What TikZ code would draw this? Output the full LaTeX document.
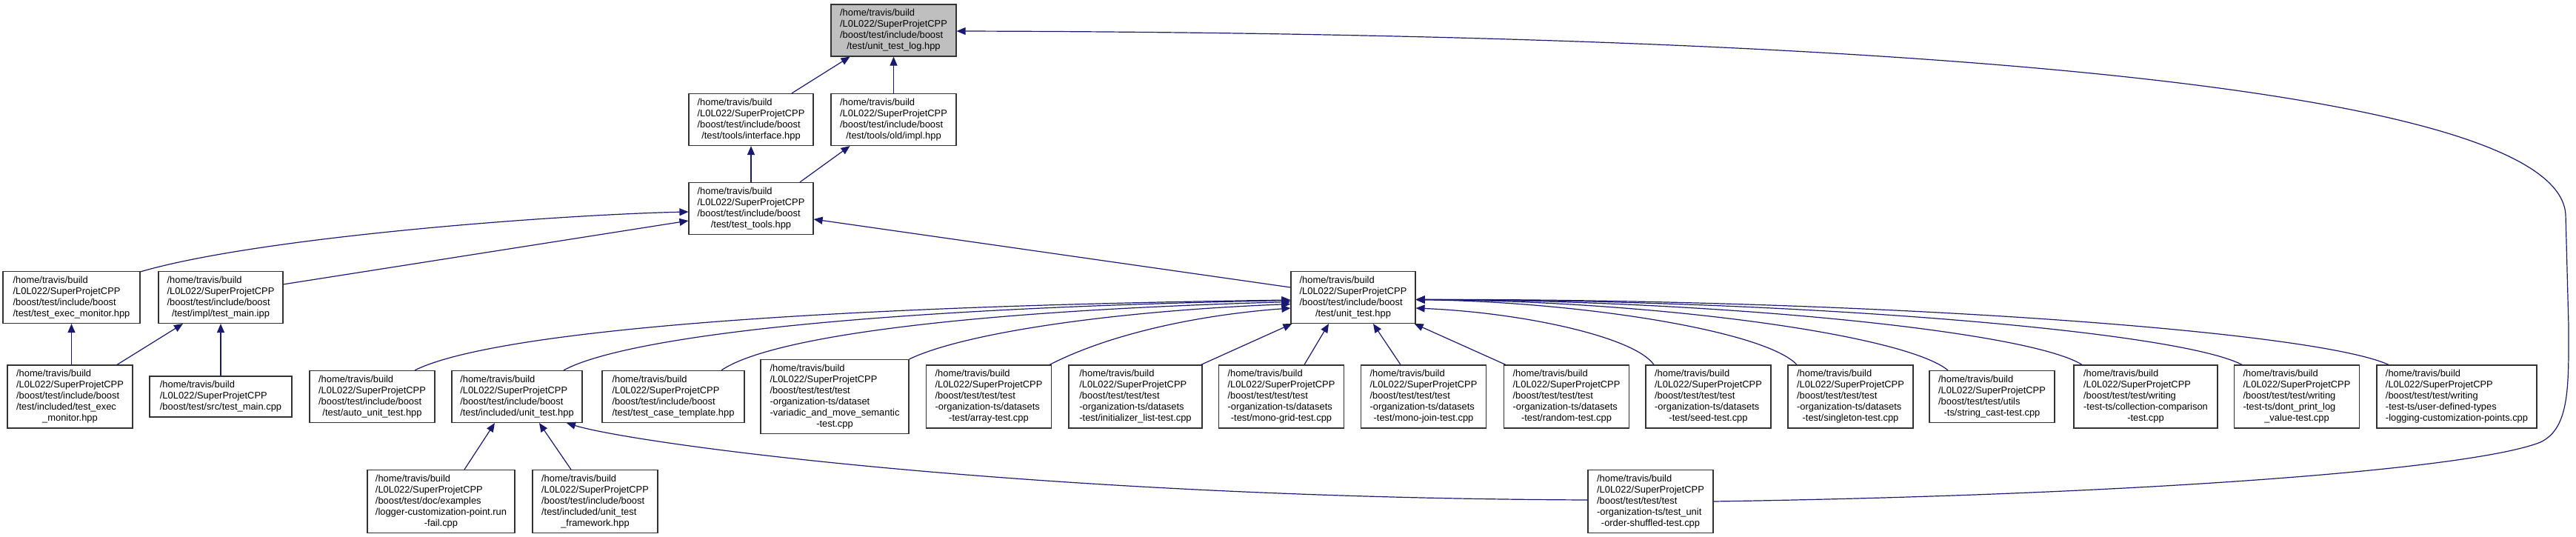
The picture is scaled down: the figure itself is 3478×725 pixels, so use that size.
\documentclass[tikz,border=0pt]{standalone}
\usepackage{fontspec}
\setmainfont{Liberation Sans}
\usepackage{xcolor}
\usepackage{tikz}
\usetikzlibrary{arrows.meta}
\definecolor{edgeblue}{RGB}{25,25,112}
\definecolor{rootgray}{RGB}{191,191,191}
\newcommand{\tvb}{/home/travis/build\\/L0L022/SuperProjetCPP}
\newcommand{\ftext}[2]{\begin{tabular}{@{}l@{}}#1\\\multicolumn{1}{@{}c@{}}{#2}\end{tabular}}

\begin{document}
\begin{tikzpicture}[x=1pt,y=-1pt,
	filebox/.style={draw=black!80, line width=1.2pt, fill=white, inner xsep=6pt, inner ysep=5pt, minimum width=169pt, font=\fontsize{12.9pt}{15pt}\selectfont},
	dep/.style={draw=edgeblue, line width=1.2pt, -{Triangle[length=12pt,width=10pt]}}]
			\fill[white] (0,0) rectangle (3478,725);
			\useasboundingbox (0,0) rectangle (3478,725);
			
			% top file
			\node[filebox, fill=rootgray] (log) at (1206.5,41) {\ftext{\tvb\\/boost/test/include/boost}{/test/unit\_test\_log.hpp}};
			
			% row 2 and 3
			\node[filebox, minimum width=168pt] (iface) at (1014,161.5) {\ftext{\tvb\\/boost/test/include/boost}{/test/tools/interface.hpp}};
			\node[filebox] (oldimpl) at (1206.5,161.5) {\ftext{\tvb\\/boost/test/include/boost}{/test/tools/old/impl.hpp}};
			\node[filebox, minimum width=168pt] (tools) at (1014,281.5) {\ftext{\tvb\\/boost/test/include/boost}{/test/test\_tools.hpp}};
			
			% row 4
			\node[filebox, minimum width=185pt] (execmon) at (96.5,401.5) {\ftext{\tvb\\/boost/test/include/boost}{/test/test\_exec\_monitor.hpp}};
			\node[filebox, minimum width=168pt] (mainipp) at (298,401.5) {\ftext{\tvb\\/boost/test/include/boost}{/test/impl/test\_main.ipp}};
			\node[filebox, minimum width=168pt] (unittest) at (1827,401.5) {\ftext{\tvb\\/boost/test/include/boost}{/test/unit\_test.hpp}};
			
			% row 5
			\node[filebox] (incexec) at (94.5,535.5) {\ftext{\tvb\\/boost/test/include/boost\\/test/included/test\_exec}{\_monitor.hpp}};
			\node[filebox, minimum width=192pt] (maincpp) at (298,535.5) {\ftext{\tvb}{/boost/test/src/test\_main.cpp}};
			\node[filebox] (autout) at (502.5,535.5) {\ftext{\tvb\\/boost/test/include/boost}{/test/auto\_unit\_test.hpp}};
			\node[filebox, minimum width=176pt] (incut) at (698,535.5) {\ftext{\tvb\\/boost/test/include/boost}{/test/included/unit\_test.hpp}};
			\node[filebox, minimum width=192pt] (casetpl) at (909,535.5) {\ftext{\tvb\\/boost/test/include/boost}{/test/test\_case\_template.hpp}};
			\node[filebox, minimum width=200pt] (variadic) at (1127,535.5) {\ftext{\tvb\\/boost/test/test/test\\-organization-ts/dataset\\-variadic\_and\_move\_semantic}{-test.cpp}};
			\node[filebox] (array) at (1335,535.5) {\ftext{\tvb\\/boost/test/test/test\\-organization-ts/datasets}{-test/array-test.cpp}};
			\node[filebox, minimum width=180pt] (initlist) at (1533,535.5) {\ftext{\tvb\\/boost/test/test/test\\-organization-ts/datasets}{-test/initializer\_list-test.cpp}};
			\node[filebox] (monogrid) at (1730,535.5) {\ftext{\tvb\\/boost/test/test/test\\-organization-ts/datasets}{-test/mono-grid-test.cpp}};
			\node[filebox] (monojoin) at (1922,535.5) {\ftext{\tvb\\/boost/test/test/test\\-organization-ts/datasets}{-test/mono-join-test.cpp}};
			\node[filebox] (random) at (2115,535.5) {\ftext{\tvb\\/boost/test/test/test\\-organization-ts/datasets}{-test/random-test.cpp}};
			\node[filebox] (seed) at (2306.5,535.5) {\ftext{\tvb\\/boost/test/test/test\\-organization-ts/datasets}{-test/seed-test.cpp}};
			\node[filebox] (singleton) at (2498.5,535.5) {\ftext{\tvb\\/boost/test/test/test\\-organization-ts/datasets}{-test/singleton-test.cpp}};
			\node[filebox] (strcast) at (2689.5,535.5) {\ftext{\tvb\\/boost/test/test/utils}{-ts/string\_cast-test.cpp}};
			\node[filebox, minimum width=194pt] (collection) at (2897,535.5) {\ftext{\tvb\\/boost/test/test/writing\\-test-ts/collection-comparison}{-test.cpp}};
			\node[filebox] (dontprint) at (3101,535.5) {\ftext{\tvb\\/boost/test/test/writing\\-test-ts/dont\_print\_log}{\_value-test.cpp}};
			\node[filebox, minimum width=216pt] (userdef) at (3317,535.5) {\ftext{\tvb\\/boost/test/test/writing\\-test-ts/user-defined-types}{-logging-customization-points.cpp}};
			
			% row 6
			\node[filebox, minimum width=199pt] (logger) at (595.5,677) {\ftext{\tvb\\/boost/test/doc/examples\\/logger-customization-point.run}{-fail.cpp}};
			\node[filebox] (utframe) at (803.5,677) {\ftext{\tvb\\/boost/test/include/boost\\/test/included/unit\_test}{\_framework.hpp}};
			\node[filebox] (shuffled) at (2228.5,677) {\ftext{\tvb\\/boost/test/test/test\\-organization-ts/test\_unit}{-order-shuffled-test.cpp}};
			
			% into the top file
			\draw[dep] ([xshift=55pt]iface.north) -- ([xshift=-59pt]log.south);
			\draw[dep] (oldimpl) -- (log);
			\draw[dep] (shuffled.east) .. controls (2900,668) and (3340,633) .. (3430,597) .. controls (3470,578) and (3468,520) .. (3468,440) -- (3464,290) .. controls (3455,120) and (2600,45) .. ([yshift=-1pt]log.east);
			
			% into row 2
			\draw[dep] (tools) -- (iface);
			\draw[dep] ([xshift=66pt]tools.north) -- ([xshift=-59pt]oldimpl.south);
			
			% into test_tools
			\draw[dep] ([yshift=-1pt]execmon.north east) .. controls (350,320) and (750,290) .. ([yshift=-4.5pt]tools.west);
			\draw[dep] ([yshift=-18pt]mainipp.north east) -- ([yshift=-16.5pt]tools.west);
			\draw[dep] ([yshift=13.5pt]unittest.west) -- ([yshift=-14.5pt]tools.east);
			
			% into row 4, left
			\draw[dep] (incexec.north -| execmon.south) -- (execmon.south);
			\draw[dep] ([xshift=63.5pt]incexec.north) -- ([xshift=-51pt]mainipp.south);
			\draw[dep] (maincpp) -- (mainipp);
			
			% into included/unit_test
			\draw[dep] ([xshift=31.5pt]logger.north) -- ([xshift=-30pt]incut.south);
			\draw[dep] ([xshift=-32.5pt]utframe.north) -- ([xshift=30pt]incut.south);
			\draw[dep] ([yshift=2pt]shuffled.west) .. controls (1400,672) and (860,600) .. ([xshift=67pt]incut.south);
			
			% into unit_test, left and below
			\draw[dep] ([xshift=57.5pt]autout.north) .. controls (650,455) and (1000,415) .. ([yshift=-3.5pt]unittest.west);
			\draw[dep] ([xshift=63pt]incut.north) .. controls (830,462) and (1100,418) .. ([yshift=-4pt]unittest.west);
			\draw[dep] ([xshift=65pt]casetpl.north) .. controls (1040,455) and (1300,420) .. ([yshift=-6pt]unittest.west);
			\draw[dep] (variadic.north east) .. controls (1300,450) and (1500,420) .. ([yshift=-9pt]unittest.west);
			\draw[dep] ([xshift=-3pt]array.north east) .. controls (1500,450) and (1620,425) .. ([yshift=-14.5pt]unittest.west);
			\draw[dep] ([xshift=-2pt]initlist.north east) -- ([xshift=2pt]unittest.south west);
			\draw[dep] ([xshift=31pt]monogrid.north) -- ([xshift=-33pt]unittest.south);
			\draw[dep] ([xshift=-31pt]monojoin.north) -- ([xshift=27pt]unittest.south);
			\draw[dep] ([xshift=3pt]random.north west) -- ([xshift=-2pt]unittest.south east);
			
			% into unit_test, right
			\draw[dep] ([xshift=-73.5pt]seed.north) .. controls (2207,455) and (2056,422) .. ([yshift=-14.5pt]unittest.east);
			\draw[dep] ([xshift=-72.5pt]singleton.north) .. controls (2385,448) and (2143,408) .. ([yshift=-3pt]unittest.east);
			\draw[dep] ([xshift=-59.5pt]strcast.north) .. controls (2572,452) and (2235,406) .. ([yshift=-3pt]unittest.east);
			\draw[dep] ([xshift=-86pt]collection.north) .. controls (2739,447) and (2316,405) .. ([yshift=-3pt]unittest.east);
			\draw[dep] ([xshift=-74pt]dontprint.north) .. controls (2938,446) and (2413,404) .. ([yshift=-3pt]unittest.east);
			\draw[dep] ([xshift=-92pt]userdef.north) .. controls (3120,445) and (2502,403) .. ([yshift=-3pt]unittest.east);
		\end{tikzpicture}
\end{document}
